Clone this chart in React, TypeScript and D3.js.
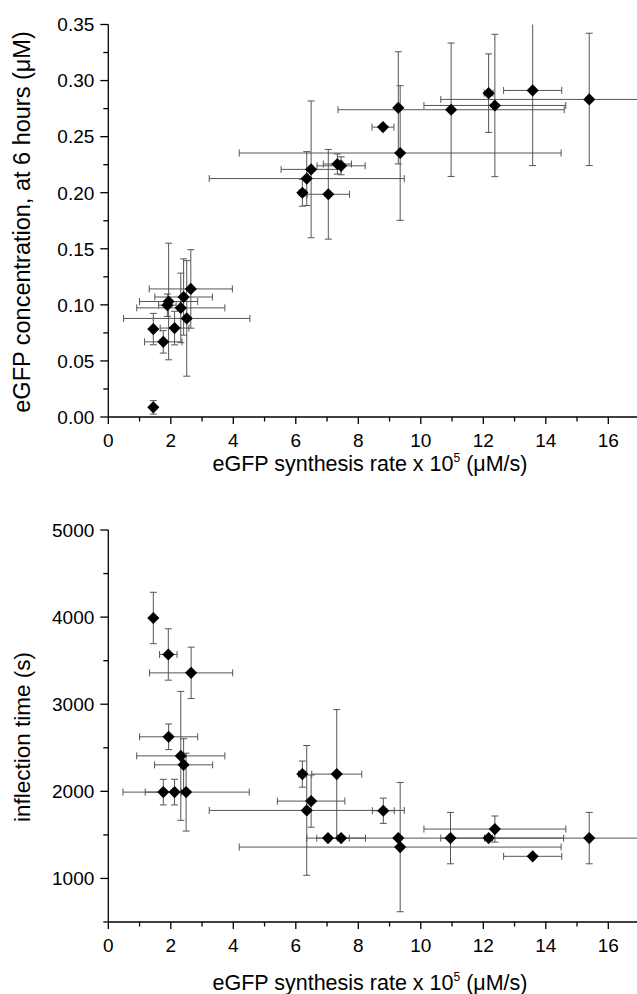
import React from "react";
import * as d3 from "d3";

// ---- Data ----
// Top panel: eGFP concentration at 6 h (µM) vs synthesis rate x 1e5 (µM/s)
const topX = [1.44, 1.44, 1.76, 1.89, 1.93, 2.12, 2.32, 2.41, 2.51, 2.64, 6.21, 6.35, 6.49, 7.04, 7.33, 7.45, 8.79, 9.28, 9.34, 10.97, 12.17, 12.37, 13.58, 15.39];
const topY = [0.0086, 0.0784, 0.067, 0.0997, 0.103, 0.0793, 0.0973, 0.107, 0.0879, 0.1142, 0.200, 0.2126, 0.2208, 0.1986, 0.2256, 0.224, 0.2585, 0.2757, 0.2354, 0.274, 0.2888, 0.2778, 0.2912, 0.2832];
const topXErr = [0, 0, 0.6, 0.28, 0.93, 0.46, 1.41, 0.92, 2.02, 1.33, 0.1, 3.12, 0.96, 0.68, 0.45, 0.77, 0.35, 0, 5.15, 3.62, 0.14, 2.27, 0.93, 4.75];
const topYErr = [0.006, 0.014, 0.01, 0.01, 0.052, 0.015, 0.031, 0.034, 0.0515, 0.035, 0.012, 0.024, 0.061, 0.04, 0.009, 0.008, 0, 0.05, 0.06, 0.0595, 0.035, 0.0635, 0.067, 0.059];

// Bottom panel: inflection time (s) vs synthesis rate x 1e5 (µM/s)
const botX = [1.44, 1.92, 2.65, 1.93, 2.32, 2.41, 1.76, 2.12, 2.49, 6.21, 7.31, 6.49, 6.35, 8.8, 7.03, 7.45, 9.28, 9.34, 10.95, 12.17, 12.37, 13.58, 15.39];
const botY = [3990, 3571, 3360, 2626, 2407, 2304, 1991, 1991, 1991, 2198, 2198, 1888, 1781, 1777, 1463, 1463, 1463, 1360, 1463, 1463, 1567, 1254, 1463];
const botXErr = [0, 0.28, 1.33, 0.93, 1.41, 0.93, 0.58, 0, 2.02, 0.12, 0.8, 1.08, 3.12, 0.35, 0.68, 0.78, 0, 5.15, 3.62, 0.13, 2.27, 0.93, 4.75];
const botYErr = [295, 295, 295, 147, 740, 300, 147, 147, 447, 150, 740, 300, 745, 145, 0, 0, 0, 742, 295, 0, 150, 0, 295];

const xTicks = [0, 2, 4, 6, 8, 10, 12, 14, 16];
const xMinor = [1, 3, 5, 7, 9, 11, 13, 15];
const topYTicks = [0, 0.05, 0.1, 0.15, 0.2, 0.25, 0.3, 0.35];
const topYMinor = [0.025, 0.075, 0.125, 0.175, 0.225, 0.275, 0.325];
const botYTicks = [1000, 2000, 3000, 4000, 5000];
const botYMinor = [500, 1500, 2500, 3500, 4500];

const W = 637;
const H = 994;
const FONT = "Liberation Sans, Arial, sans-serif";
const ERR = "#555555";

type PanelProps = {
  xs: number[]; ys: number[]; xe: number[]; ye: number[];
  yDomain: [number, number]; yRange: [number, number];
  yTicks: number[]; yMinor: number[]; yFmt: (v: number) => string;
  xTitleY: number; yTitle: string; yTitleCenter: number; yTitleSize: number; id: string;
};

function Panel(p: PanelProps) {
  const x = d3.scaleLinear().domain([0, 17]).range([108.3, 108.3 + 17 * 31.25]);
  const y = d3.scaleLinear().domain(p.yDomain).range(p.yRange);
  const x0 = x(0);
  const yb = p.yRange[0];
  const yt = p.yRange[1];
  const diamond = d3.symbol().type(d3.symbolSquare).size(74)() as string;
  const cap = 3.5;
  return (
    <g>
      <defs>
        <clipPath id={"clip" + p.id}>
          <rect x={x0} y={yt} width={W - x0 + 5} height={yb - yt} />
        </clipPath>
      </defs>
      {/* error bars */}
      <g clipPath={`url(#clip${p.id})`} stroke={ERR} strokeWidth={1} fill="none">
        {p.xs.map((xv, i) => {
          const cx = x(xv), cy = y(p.ys[i]);
          const parts: React.ReactNode[] = [];
          if (p.xe[i] > 0) {
            const l = x(xv - p.xe[i]), r = x(xv + p.xe[i]);
            parts.push(<line key="h" x1={l} x2={r} y1={cy} y2={cy} />);
            parts.push(<line key="hl" x1={l} x2={l} y1={cy - cap} y2={cy + cap} />);
            parts.push(<line key="hr" x1={r} x2={r} y1={cy - cap} y2={cy + cap} />);
          }
          if (p.ye[i] > 0) {
            const t = y(p.ys[i] + p.ye[i]), b = y(p.ys[i] - p.ye[i]);
            parts.push(<line key="v" x1={cx} x2={cx} y1={t} y2={b} />);
            parts.push(<line key="vt" x1={cx - cap} x2={cx + cap} y1={t} y2={t} />);
            parts.push(<line key="vb" x1={cx - cap} x2={cx + cap} y1={b} y2={b} />);
          }
          return <g key={i}>{parts}</g>;
        })}
      </g>
      {/* markers */}
      <g fill="#000">
        {p.xs.map((xv, i) => (
          <path key={i} d={diamond} transform={`translate(${x(xv)},${y(p.ys[i])}) rotate(45)`} />
        ))}
      </g>
      {/* axes */}
      <g stroke="#000" strokeWidth={1.3}>
        <line x1={x0} x2={W + 5} y1={yb} y2={yb} />
        <line x1={x0} x2={x0} y1={yt} y2={yb} />
        {xTicks.map((t) => <line key={"xt" + t} x1={x(t)} x2={x(t)} y1={yb} y2={yb + 7} />)}
        {xMinor.map((t) => <line key={"xm" + t} x1={x(t)} x2={x(t)} y1={yb} y2={yb + 4.5} />)}
        {p.yTicks.map((t) => <line key={"yt" + t} x1={x0 - 8} x2={x0} y1={y(t)} y2={y(t)} />)}
        {p.yMinor.map((t) => <line key={"ym" + t} x1={x0 - 5} x2={x0} y1={y(t)} y2={y(t)} />)}
      </g>
      <g fontFamily={FONT} fontSize={19} fill="#000">
        {xTicks.map((t) => (
          <text key={"xl" + t} x={x(t)} y={yb + 29.5} textAnchor="middle">{t}</text>
        ))}
        {p.yTicks.map((t) => (
          <text key={"yl" + t} x={x0 - 14} y={y(t) + 6.8} textAnchor="end">{p.yFmt(t)}</text>
        ))}
      </g>
      <text x={370} y={p.xTitleY} textAnchor="middle" fontFamily={FONT} fontSize={21.5} fill="#000">
        eGFP synthesis rate x 10<tspan fontSize={12} dy={-9}>5</tspan><tspan dy={9}> (μM/s)</tspan>
      </text>
      <text transform={`translate(30,${p.yTitleCenter}) rotate(-90)`} textAnchor="middle" fontFamily={FONT} fontSize={p.yTitleSize} fill="#000">
        {p.yTitle}
      </text>
    </g>
  );
}

export default function App() {
  return (
    <svg width={W} height={H} style={{ position: "absolute", left: 0, top: 0, background: "#fff" }}>
      <rect width={W} height={H} fill="#fff" />
      <Panel id="a" xs={topX} ys={topY} xe={topXErr} ye={topYErr}
        yDomain={[0, 0.35]} yRange={[417, 24.5]} yTicks={topYTicks} yMinor={topYMinor}
        yFmt={(v) => v.toFixed(2)} xTitleY={471} yTitle="eGFP concentration, at 6 hours (μM)" yTitleCenter={222} yTitleSize={23.5} />
      <Panel id="b" xs={botX} ys={botY} xe={botXErr} ye={botYErr}
        yDomain={[500, 5000]} yRange={[922, 530]} yTicks={botYTicks} yMinor={botYMinor}
        yFmt={(v) => String(v)} xTitleY={990} yTitle="inflection time (s)" yTitleCenter={737} yTitleSize={22.5} />
    </svg>
  );
}
